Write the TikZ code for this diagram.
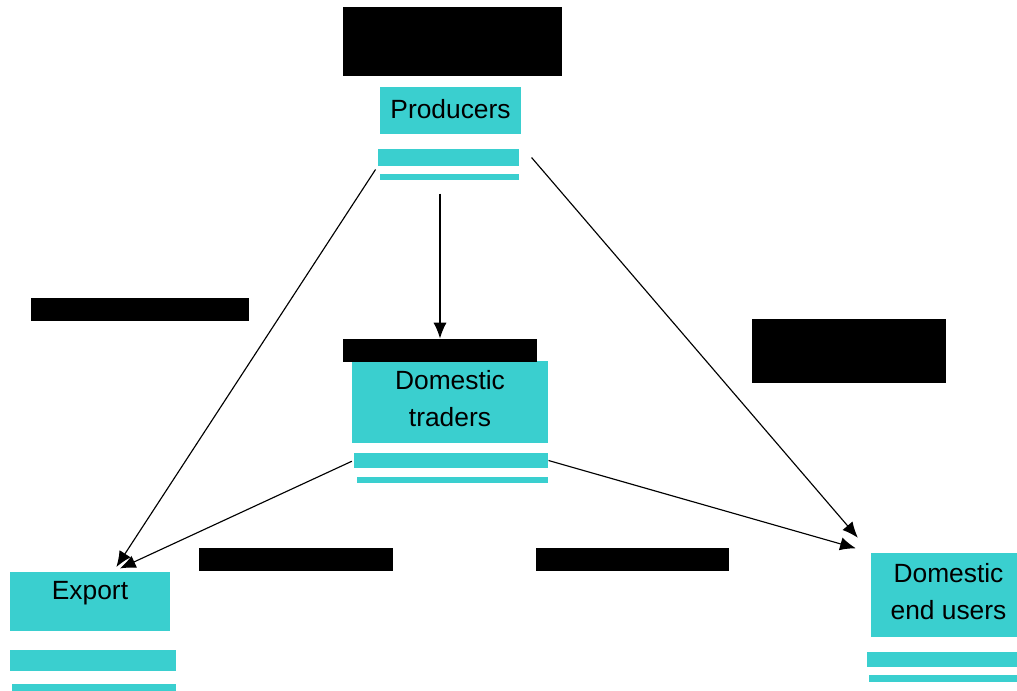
\documentclass[tikz,border=0pt]{standalone}
\usepackage{fontspec}
\setmainfont{Liberation Sans}
\usetikzlibrary{arrows.meta}
\definecolor{boxfill}{RGB}{58,207,207}
\begin{document}
\begin{tikzpicture}[x = 0.02cm, y = -0.02cm, ->, >={Latex[length=9pt, width=7.5pt]}, line width = 0.65pt, align = center,
	box/.style = { fill = boxfill, inner sep = 0pt, font = \fontsize{15}{21}\selectfont },
	bar/.style = { fill = boxfill, inner sep = 0pt },
	mask/.style = { fill = black, inner sep = 0pt }]
				\useasboundingbox (0,0) rectangle (1017,690);
				\node[mask] (pl) at (452.5, 41.5) [minimum width = 4.38cm, minimum height = 1.38cm] {};
				\node[box] (p) at (450.5,110.5) [minimum width = 2.82cm, minimum height = 0.94cm, text depth = 1.5pt] {Producers};
				\node[bar] (pb1) at (448.5,157.5) [minimum width = 2.82cm, minimum height = 0.34cm] {};
				\node[bar] (pb2) at (449.5,177) [minimum width = 2.78cm, minimum height = 0.12cm] {};
				\node[box] (t) at (450,402) [minimum width = 3.92cm, minimum height = 1.64cm, text depth = 4pt] {Domestic \\ traders};
				\node[mask] (tl) at (440,350.5) [minimum width = 3.88cm, minimum height = 0.46cm] {};
				\node[bar] (tb1) at (451,460.5) [minimum width = 3.88cm, minimum height = 0.30cm] {};
				\node[bar] (tb2) at (452.5,480) [minimum width = 3.82cm, minimum height = 0.12cm] {};
				\node[box] (e) at (90,601.5) [minimum width = 3.2cm, minimum height = 1.18cm, text depth = 12.5pt] {Export};
				\node[bar] (eb1) at (93,660.5) [minimum width = 3.32cm, minimum height = 0.42cm] {};
				\node[bar] (eb2) at (94,688) [minimum width = 3.28cm, minimum height = 0.16cm] {};
				\node[box] (u) at (948.5,595) [minimum width = 3.1cm, minimum height = 1.68cm, text depth = 4pt] {Domestic \\ end users};
				\node[bar] (ub1) at (948.5,659.5) [minimum width = 3.26cm, minimum height = 0.30cm] {};
				\node[bar] (ub2) at (948.5,678.5) [minimum width = 3.18cm, minimum height = 0.14cm] {};
				\node[mask] (al) at (140,309.5) [minimum width = 4.36cm, minimum height = 0.46cm] {};
				\node[mask] (ar) at (849,351) [minimum width = 3.88cm, minimum height = 1.28cm] {};
				\node[mask] (el) at (296,559) [minimum width = 3.88cm, minimum height = 0.46cm] {};
				\node[mask] (ul) at (632.5,559) [minimum width = 3.86cm, minimum height = 0.46cm] {};
				\draw[shorten <= 2pt, shorten >= 3pt] (pb1.south west) to (e.52);
				\draw[shorten <= 7.4pt] (tl.north |- pb2.south) to (tl.north);
				\draw[shorten >= 11pt] ([xshift = 0.24cm]pb1.east) to (u.north west);
				\draw[shorten <= 1pt, shorten >= 4pt] (tb1.west) to (e.52);
				\draw[shorten >= 8.6pt] (tb1.east) to (u.north west);
			\end{tikzpicture}
\end{document}
